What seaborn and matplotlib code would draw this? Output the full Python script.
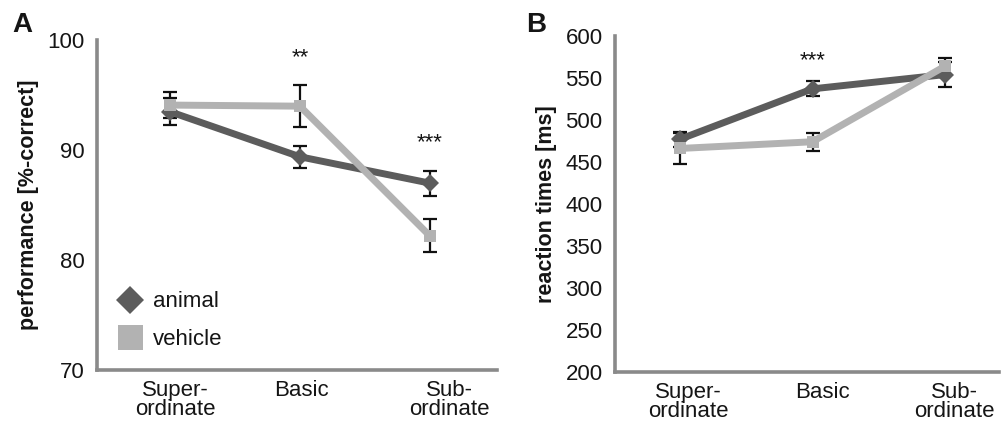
import numpy as np
import pandas as pd
import matplotlib
matplotlib.use('Agg')
import matplotlib.pyplot as plt
import seaborn as sns
from matplotlib.lines import Line2D

categories = ['Super-\nordinate', 'Basic', 'Sub-\nordinate']

# panel A: performance [%-correct]
perf_animal = [93.5, 89.4, 87.0]
perf_animal_err = [1.2, 1.0, 1.15]
perf_vehicle = [94.1, 94.0, 82.2]
perf_vehicle_err = [1.2, 1.9, 1.5]
perf_stars = ['', '**', '***']

# panel B: reaction times [ms]
rt_animal = [477, 537, 554]
rt_animal_err = [9, 9, 15]
rt_vehicle = [466, 474, 564]
rt_vehicle_err = [18, 11, 10]
rt_stars = ['', '***', '']

DARK = '#5c5c5c'
LIGHT = '#b2b2b2'
AXIS = '#8a8a8a'
TEXT = '#151515'


def make_frame(animal, animal_err, vehicle, vehicle_err):
    pos = np.arange(len(categories))
    df_a = pd.DataFrame({'pos': pos, 'value': animal, 'err': animal_err, 'group': 'animal'})
    df_v = pd.DataFrame({'pos': pos, 'value': vehicle, 'err': vehicle_err, 'group': 'vehicle'})
    return pd.concat([df_a, df_v], ignore_index=True)


def draw_panel(ax, data, ylim, yticks, ylabel, xlim, stars, star_y, label_shift):
    for grp, color in [('animal', DARK), ('vehicle', LIGHT)]:
        sub = data[data.group == grp]
        ax.errorbar(sub.pos, sub.value, yerr=sub.err, fmt='none', ecolor='#111111',
                    elinewidth=1.6, capsize=5, capthick=1.6, zorder=1)
    sns.lineplot(data=data, x='pos', y='value', hue='group', style='group',
                 palette={'animal': DARK, 'vehicle': LIGHT},
                 markers={'animal': 'D', 'vehicle': 's'}, dashes=False,
                 markersize=9, markeredgewidth=0, linewidth=5, legend=False,
                 ax=ax, zorder=2)
    for i, s in enumerate(stars):
        if s:
            ax.text(i, star_y[i], s, ha='center', va='center', fontsize=16, color=TEXT)
    ax.set_ylim(*ylim)
    ax.set_yticks(yticks)
    ax.set_xlim(*xlim)
    ax.set_xticks(np.arange(len(categories)) + np.array(label_shift))
    ax.set_xticklabels(categories, linespacing=0.9)
    ax.set_xlabel('')
    ax.set_ylabel(ylabel, fontsize=15.5, fontweight='bold', labelpad=6, color=TEXT)
    ax.tick_params(axis='y', length=7, width=2, color=AXIS, labelsize=16, pad=2, labelcolor=TEXT)
    ax.tick_params(axis='x', length=0, labelsize=16, pad=7, labelcolor=TEXT)
    for side in ['top', 'right']:
        ax.spines[side].set_visible(False)
    for side in ['left', 'bottom']:
        ax.spines[side].set_color(AXIS)
        ax.spines[side].set_linewidth(2.6)


sns.set_theme(style='white')
plt.rcParams['font.family'] = ['Liberation Sans', 'DejaVu Sans']

fig = plt.figure(figsize=(10.01, 4.23), dpi=100)
ax1 = fig.add_axes([0.097, 0.125, 0.400, 0.780])
ax2 = fig.add_axes([0.6144, 0.121, 0.384, 0.794])

perf = make_frame(perf_animal, perf_animal_err, perf_vehicle, perf_vehicle_err)
draw_panel(ax1, perf, (70, 100), [70, 80, 90, 100], 'performance [%-correct]',
           (-0.56, 2.52), perf_stars, [0, 98.4, 90.7], [0.04, 0.015, 0.15])

rt = make_frame(rt_animal, rt_animal_err, rt_vehicle, rt_vehicle_err)
draw_panel(ax2, rt, (200, 600), np.arange(200, 601, 50), 'reaction times [ms]',
           (-0.49, 2.41), rt_stars, [0, 570, 0], [0.06, 0.075, 0.07])

handles = [Line2D([], [], linestyle='none', marker='D', markersize=14, color=DARK, markeredgewidth=0),
           Line2D([], [], linestyle='none', marker='s', markersize=18, color=LIGHT, markeredgewidth=0)]
ax1.legend(handles, ['animal', 'vehicle'], loc='lower left', bbox_to_anchor=(0.0, 0.0),
           frameon=False, fontsize=16, handletextpad=0.4, labelspacing=0.75, handlelength=1.2,
           labelcolor=TEXT)

fig.text(0.012, 0.925, 'A', fontsize=20, fontweight='bold', color=TEXT)
fig.text(0.526, 0.925, 'B', fontsize=20, fontweight='bold', color=TEXT)

fig.savefig('out.png', dpi=100)
